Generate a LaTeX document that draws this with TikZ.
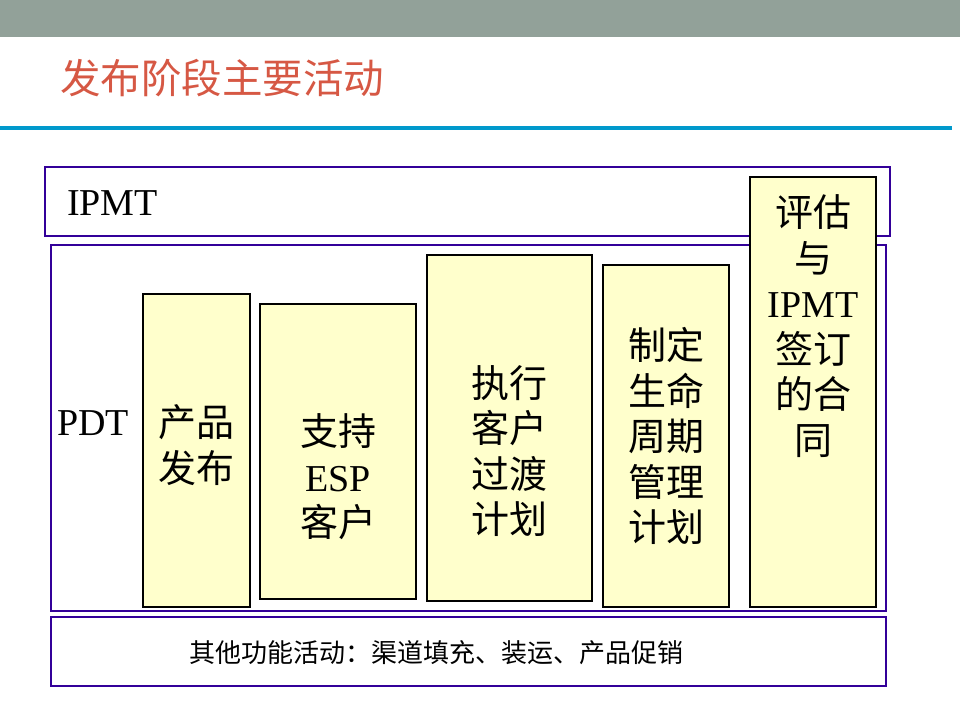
\documentclass[tikz,border=0pt]{standalone}
\usepackage{fontspec}
\setmainfont{Liberation Serif}
\newfontfamily\cjk{Noto Sans CJK SC}
\usepackage{xcolor}
\usepackage{tikz}
\usetikzlibrary{positioning, calc}

\definecolor{barGray}{RGB}{146,161,153}
\definecolor{ruleBlue}{RGB}{0,153,204}
\definecolor{titleRed}{RGB}{214,88,68}
\definecolor{framePurple}{RGB}{51,0,153}
\definecolor{actYellow}{RGB}{255,255,204}

\begin{document}
\begin{tikzpicture}[x=1pt,y=-1pt,
  frame/.style={draw=framePurple,line width=1.4pt,fill=white},
  actbox/.style={draw=black,line width=1.2pt,fill=actYellow,inner sep=0pt},
  acttext/.style={align=center,font=\fontsize{38}{45.5}\selectfont}]
  \useasboundingbox (0,0) rectangle (960,720);

  % Header
  \fill[barGray] (0,0) rectangle (960,37);
  \fill[ruleBlue] (0,126) rectangle (952,130);
  \node[anchor=west,text=titleRed,font=\cjk\fontsize{40.5}{40.5}\selectfont,inner sep=0pt] (title) at (60,78) {发布阶段主要活动};

  % Frames
  \node[frame,minimum width=845,minimum height=69] (ipmt) at (467.5,201.5) {};
  \node[frame,minimum width=835,minimum height=366] (pdt) at (468.5,428) {};
  \node[frame,minimum width=835,minimum height=69] (other) at (468.5,651.5) {};
  \node[anchor=west,font=\fontsize{38}{38}\selectfont,inner sep=0pt] (ipmtlbl) at (67,203) {IPMT};
  \node[anchor=west,font=\fontsize{38}{38}\selectfont,inner sep=0pt] (pdtlbl) at (57,423) {PDT};
  \node[anchor=west,font=\cjk\fontsize{26}{26}\selectfont,inner sep=0pt] (otherlbl) at (189,653)
    {其他功能活动：渠道填充、装运、产品促销};

  % Activities
  \node[actbox,minimum width=107,minimum height=313] (release) at (196.5,450.5) {};
  \node[acttext] (releasetxt) at (196,445) {\cjk 产品\\\cjk 发布};

  \node[actbox,minimum width=156,minimum height=295] (esp) at (338,451.5) {};
  \node[acttext] (esptxt) at (338,477) {\cjk 支持\\ESP\\\cjk 客户};

  \node[actbox,minimum width=165,minimum height=346] (transit) at (509.5,428) {};
  \node[acttext] (transittxt) at (509.5,451) {\cjk 执行\\\cjk 客户\\\cjk 过渡\\\cjk 计划};

  \node[actbox,minimum width=126,minimum height=342] (lifecycle) at (666,436) {};
  \node[acttext] (lifecycletxt) at (666,436) {\cjk 制定\\\cjk 生命\\\cjk 周期\\\cjk 管理\\\cjk 计划};

  \node[actbox,minimum width=126,minimum height=430] (contract) at (813,392) {};
  \node[acttext] (contracttxt) at (813,326) {\cjk 评估\\\cjk 与\\IPMT\\\cjk 签订\\\cjk 的合\\\cjk 同};
\end{tikzpicture}
\end{document}
